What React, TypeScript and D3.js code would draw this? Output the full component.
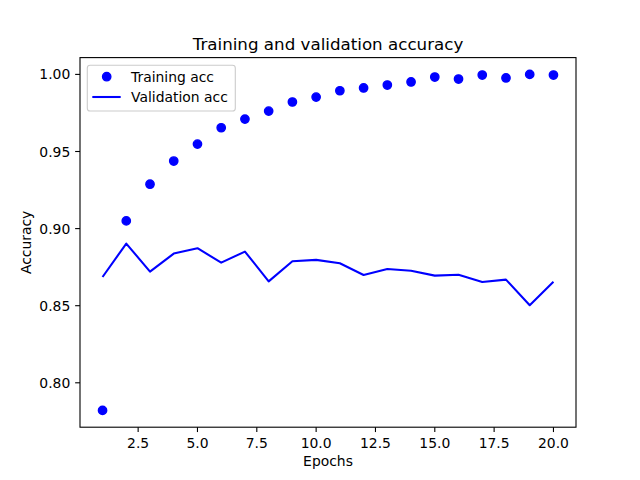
import React from 'react';
import * as d3 from 'd3';

// values
const epochs = [1, 2, 3, 4, 5, 6, 7, 8, 9, 10, 11, 12, 13, 14, 15, 16, 17, 18, 19, 20];
const trainingAcc = [
  0.7821, 0.905, 0.9288, 0.9438, 0.9548, 0.9654, 0.971, 0.9762, 0.9821, 0.9853,
  0.9894, 0.9912, 0.9931, 0.9951, 0.9983, 0.997, 0.9996, 0.9977, 1.0, 0.9996,
];
const validationAcc = [
  0.8686, 0.8903, 0.8721, 0.8838, 0.8873, 0.8779, 0.8851, 0.8658, 0.8788, 0.8797,
  0.8775, 0.8699, 0.8738, 0.8727, 0.8695, 0.8701, 0.8654, 0.8669, 0.8503, 0.8656,
];
const xTicks = [2.5, 5, 7.5, 10, 12.5, 15, 17.5, 20];
const yTicks = [0.8, 0.85, 0.9, 0.95, 1.0];

const W = 640;
const H = 480;
const left = 80;
const right = 576;
const top = 57.6;
const bottom = 427.2;
const font = '"DejaVu Sans", sans-serif';
const blue = '#0000ff';
const markerR = 4.17;

// matplotlib-like 5% padding around the data
function padded(values: number[]): [number, number] {
  const [lo, hi] = d3.extent(values) as [number, number];
  const m = (hi - lo) * 0.05;
  return [lo - m, hi + m];
}

export default function App() {
  const x = d3.scaleLinear().domain(padded(epochs)).range([left, right]);
  const y = d3
    .scaleLinear()
    .domain(padded([...trainingAcc, ...validationAcc]))
    .range([bottom, top]);

  const line = d3
    .line<number>()
    .x((_, i) => x(epochs[i]))
    .y((d) => y(d));

  const tickLen = 4.86;

  return (
    <svg
      width={W}
      height={H}
      viewBox={`0 0 ${W} ${H}`}
      style={{ position: 'absolute', left: 0, top: 0, background: '#fff' }}
      fontFamily={font}
    >
      <rect x={0} y={0} width={W} height={H} fill="#fff" />

      {/* title */}
      <text x={(left + right) / 2} y={50} textAnchor="middle" fontSize={16.7} fill="#000">
        Training and validation accuracy
      </text>

      {/* data */}
      <path d={line(validationAcc) ?? ''} fill="none" stroke={blue} strokeWidth={2.08} strokeLinejoin="round" />
      {trainingAcc.map((v, i) => (
        <circle key={i} cx={x(epochs[i])} cy={y(v)} r={markerR} fill={blue} stroke={blue} strokeWidth={1.39} />
      ))}

      {/* spines */}
      <rect
        x={left}
        y={top}
        width={right - left}
        height={bottom - top}
        fill="none"
        stroke="#000"
        strokeWidth={1.1}
      />

      {/* x axis */}
      {xTicks.map((t) => (
        <g key={t}>
          <line x1={x(t)} x2={x(t)} y1={bottom} y2={bottom + tickLen} stroke="#000" strokeWidth={1.1} />
          <text x={x(t)} y={448} textAnchor="middle" fontSize={13.9} fill="#000">
            {d3.format('.1f')(t)}
          </text>
        </g>
      ))}
      <text x={(left + right) / 2} y={466} textAnchor="middle" fontSize={13.9} fill="#000">
        Epochs
      </text>

      {/* y axis */}
      {yTicks.map((t) => (
        <g key={t}>
          <line x1={left - tickLen} x2={left} y1={y(t)} y2={y(t)} stroke="#000" strokeWidth={1.1} />
          <text x={70.3} y={y(t)} dy="0.36em" textAnchor="end" fontSize={13.9} fill="#000">
            {d3.format('.2f')(t)}
          </text>
        </g>
      ))}
      <text
        transform={`translate(30.5, ${(top + bottom) / 2}) rotate(-90)`}
        textAnchor="middle"
        fontSize={13.9}
        fill="#000"
      >
        Accuracy
      </text>

      {/* legend */}
      <g>
        <rect
          x={87.3}
          y={65.3}
          width={148}
          height={45.7}
          rx={2.8}
          fill="#fff"
          fillOpacity={0.8}
          stroke="#cccccc"
          strokeWidth={1.1}
        />
        <circle cx={106.7} cy={76.7} r={markerR} fill={blue} stroke={blue} strokeWidth={1.39} />
        <text x={131} y={81.7} fontSize={13.9} fill="#000">
          Training acc
        </text>
        <line x1={92.3} x2={120.7} y1={97} y2={97} stroke={blue} strokeWidth={2.08} />
        <text x={131} y={102.3} fontSize={13.9} fill="#000">
          Validation acc
        </text>
      </g>
    </svg>
  );
}
